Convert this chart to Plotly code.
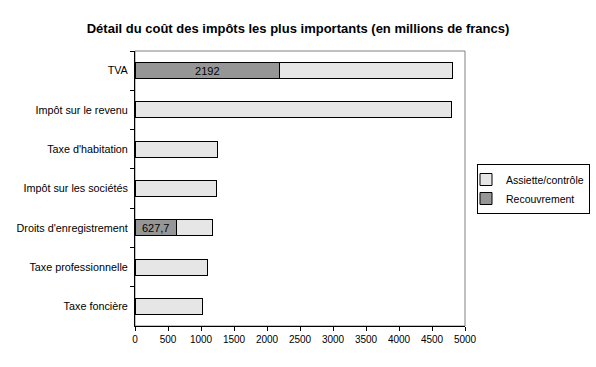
import plotly.graph_objects as go

categories = ["TVA", "Impôt sur le revenu", "Taxe d'habitation", "Impôt sur les sociétés",
              "Droits d'enregistrement", "Taxe professionnelle", "Taxe foncière"]
recouvrement = [2192, 0, 0, 0, 627.7, 0, 0]
assiette = [2626, 4802, 1246, 1237, 542, 1094, 1018]
x_ticks = [0, 500, 1000, 1500, 2000, 2500, 3000, 3500, 4000, 4500, 5000]

rec_text = [("%g" % v).replace(".", ",") if v else "" for v in recouvrement]

FONT = "Liberation Sans, Arial, sans-serif"
fig = go.Figure()
fig.add_trace(go.Bar(
    y=categories, x=recouvrement, orientation="h", name="Recouvrement",
    marker=dict(color="#969696", line=dict(color="black", width=1)),
    text=rec_text, textposition="inside", insidetextanchor="middle", constraintext="none",
    textfont=dict(family=FONT, size=11, color="black"), hoverinfo="x+y",
))
fig.add_trace(go.Bar(
    y=categories, x=assiette, orientation="h", name="Assiette/contrôle",
    marker=dict(color="#E6E6E6", line=dict(color="black", width=1)),
))

fig.update_layout(
    barmode="stack", bargap=0.59,
    width=596, height=367,
    margin=dict(l=135, r=131, t=51, b=41, autoexpand=False),
    paper_bgcolor="white", plot_bgcolor="white",
    font=dict(family=FONT, size=10, color="black"),
    title=dict(text="<b>Détail du coût des impôts les plus importants (en millions de francs)</b>",
               x=0.5, xanchor="center", y=0.922, yanchor="middle",
               font=dict(family=FONT, size=13, color="black")),
    legend=dict(xref="container", yref="container", x=1 - 6 / 596, y=1 - 164 / 367,
                xanchor="right", yanchor="top", indentation=-12,
                traceorder="reversed", bordercolor="black", borderwidth=1,
                bgcolor="white", font=dict(family=FONT, size=10.5, color="black"),
                itemwidth=30, tracegroupgap=0),
    showlegend=True,
    shapes=[dict(type="rect", xref="paper", yref="paper", x0=0, x1=1, y0=0, y1=1,
                 line=dict(color="#808080", width=1), layer="below")],
)
fig.update_xaxes(range=[0, 5000], tickvals=x_ticks, ticktext=[str(t) for t in x_ticks],
                 showgrid=False, zeroline=False, showline=True, linecolor="black", linewidth=1,
                 ticks="outside", ticklen=4, tickcolor="black", automargin=False,
                 tickfont=dict(family=FONT, size=10, color="black"))
fig.update_yaxes(autorange="reversed", showgrid=False, showline=True, linecolor="black", linewidth=1,
                 ticks="outside", ticklen=4, tickcolor="black", tickson="boundaries",
                 ticklabelstandoff=4, automargin=False,
                 tickfont=dict(family=FONT, size=10.8, color="black"))

fig.write_html("out.html", config={"displayModeBar": False},
               post_script="document.body.style.margin='0';")
